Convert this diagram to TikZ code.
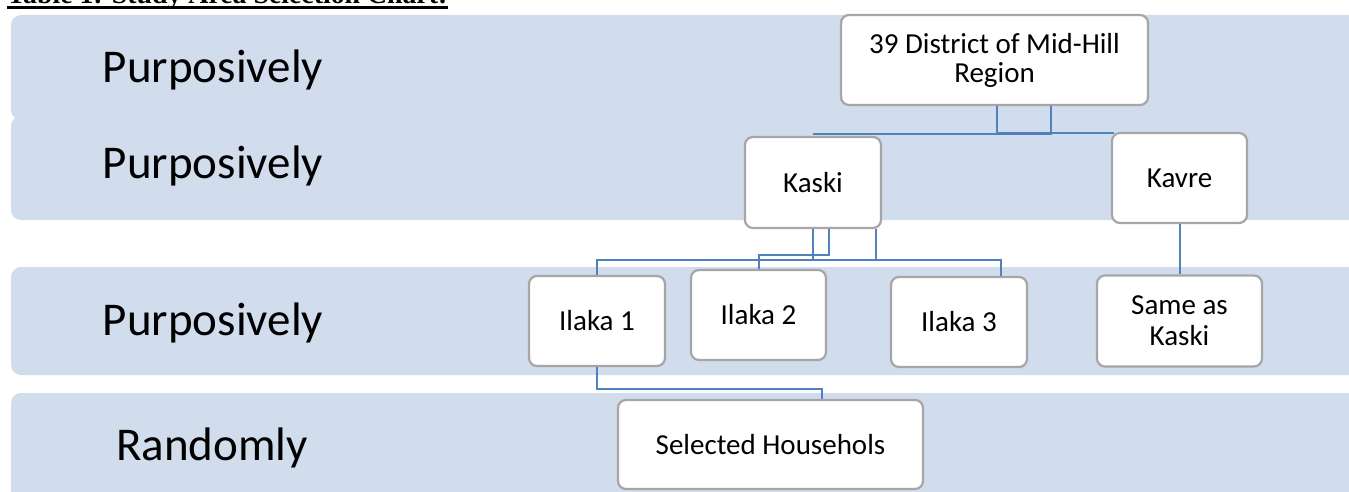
\documentclass[tikz,border=0pt]{standalone}
\usepackage{fontspec}
\setmainfont{Carlito}
\newfontfamily\titlefont{Liberation Serif}
\definecolor{bandfill}{RGB}{209,220,237}
\definecolor{boxgray}{RGB}{166,166,166}
\definecolor{connblue}{RGB}{79,129,189}
\tikzset{
  band/.style={fill=bandfill, draw=none, rounded corners=10},
  lvl/.style={inner sep=0, anchor=base, font=\fontsize{47}{50}\selectfont},
  boxnode/.style={draw=boxgray, line width=2.2, fill=white, rounded corners=8,
    inner sep=0, align=center, font=\fontsize{29}{29}\selectfont},
  conn/.style={draw=connblue, line width=2}
}
\begin{document}
\begin{tikzpicture}[x=1pt,y=-1pt]
\useasboundingbox (0,0) rectangle (1349,492);
\clip (0,0) rectangle (1349,492);
% title (cut off at top, as in the reference)
\node[anchor=base west, inner sep=0, font=\titlefont\bfseries\fontsize{27.8}{30}\selectfont] (title) at (7,4) {Table 1: Study Area Selection Chart:};
\draw[line width=3.5] ([yshift=-3.5]title.base west) -- ([yshift=-3.5]title.base east);
% bands
\fill[band] (11,15) rectangle (1365,120);
\fill[band] (11,116) rectangle (1365,220);
\fill[band] (11,267) rectangle (1365,375);
\fill[band] (11,393) rectangle (1365,510);
% level labels
\node[lvl] (l1) at (213,83) {Purposively};
\node[lvl] (l2) at (213,178) {Purposively};
\node[lvl] (l3) at (213,335) {Purposively};
\node[lvl] (l4) at (212,460) {Randomly};
% boxes
\node[boxnode, minimum width=307, minimum height=90] (top) at (994.5,60) {39 District of Mid-Hill\\Region};
\node[boxnode, minimum width=136, minimum height=91] (kaski) at (813,182.5) {Kaski};
\node[boxnode, minimum width=135, minimum height=90] (kavre) at (1179.5,178) {Kavre};
\node[boxnode, minimum width=136, minimum height=90] (ilaka1) at (597,321) {Ilaka 1};
\node[boxnode, minimum width=135, minimum height=90] (ilaka2) at (758.5,315) {Ilaka 2};
\node[boxnode, minimum width=136, minimum height=90] (ilaka3) at (959,322) {Ilaka 3};
\node[boxnode, minimum width=165, minimum height=91, font=\fontsize{29}{31}\selectfont] (same) at (1179.5,321) {Same as\\Kaski};
\node[boxnode, minimum width=305, minimum height=89] (selected) at (770.5,444.5) {Selected Househols};
% connectors
\draw[conn] ([xshift=56.5]top.south) |- ([yshift=2]kaski.north);
\draw[conn] ([xshift=2.5]top.south) |- ([xshift=3,yshift=-1]kavre.north west);
\draw[conn] (kaski.south) -- ++(0,31) -| ([xshift=42]ilaka3.north);
\draw[conn] ([xshift=63]kaski.south) -- ++(0,31) -| (ilaka1.north);
\draw[conn] ([xshift=16]kaski.south) -- ++(0,26) -| (ilaka2.north);
\draw[conn] (ilaka1.south) -- ++(0,22) -| ([xshift=51.5]selected.north);
\draw[conn] (kavre.south) -- (same.north);
\end{tikzpicture}
\end{document}
